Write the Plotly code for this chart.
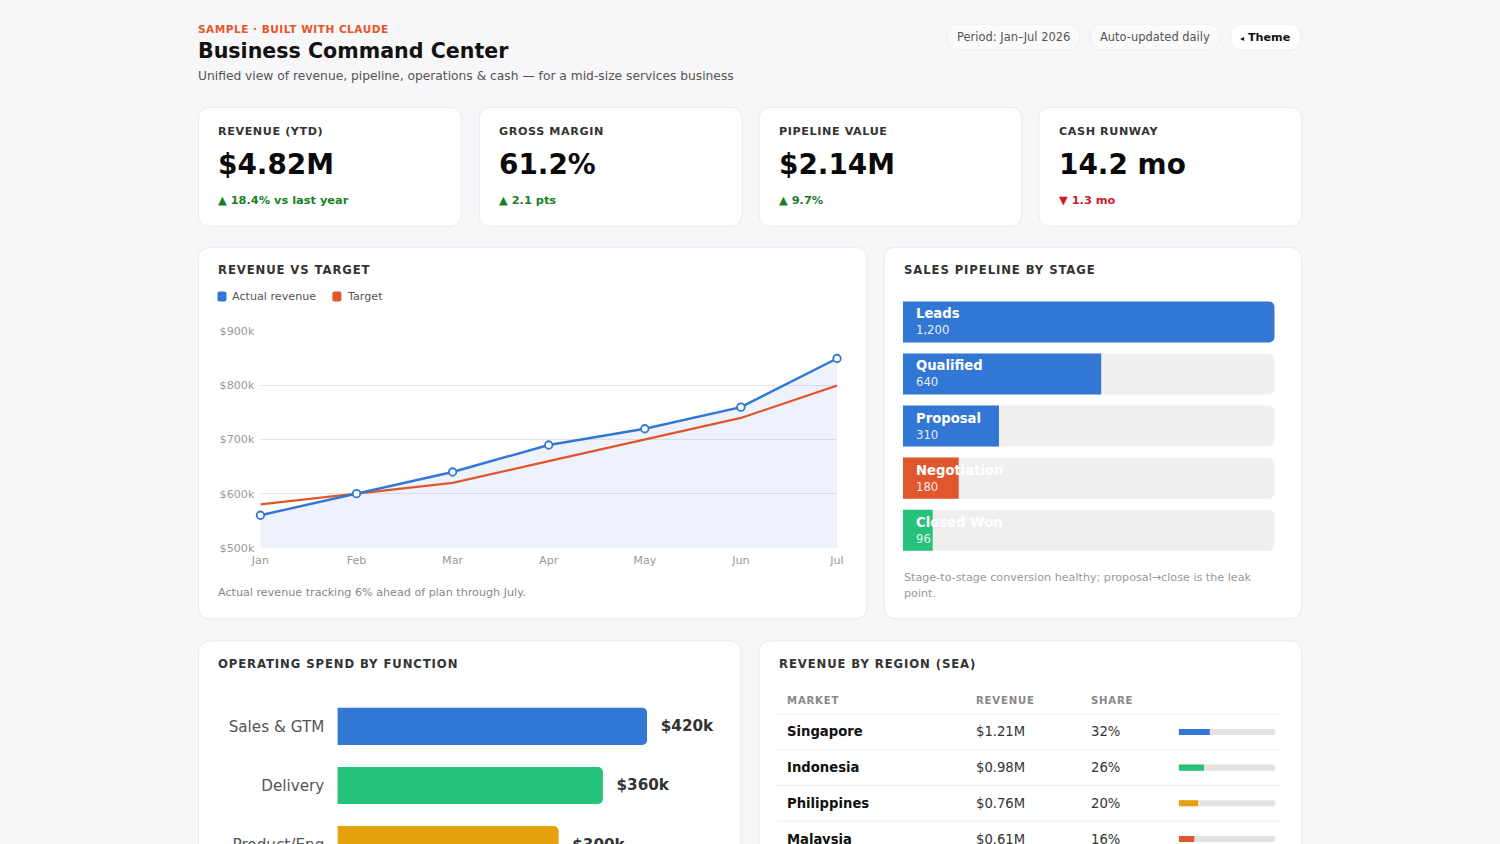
import plotly.graph_objects as go

# The page is photographed as a 1516x860 area squeezed into 1500x844, with the
# figure starting a few px in. Positions below are written in photo pixels and mapped.
SX, SY = 1500 / 1516, 844 / 860
OFFX, OFFY = 9.5, 6
W, H = 1507, 854
FONT = "DejaVu Sans"
BG = "#f7f6f8"

# --- header texts
eyebrow = "SAMPLE · BUILT WITH CLAUDE"
page_title = "Business Command Center"
subtitle = "Unified view of revenue, pipeline, operations & cash — for a mid-size services business"
pills = ["Period: Jan–Jul 2026", "Auto-updated daily"]

# --- KPI cards
kpi_titles = ["REVENUE (YTD)", "GROSS MARGIN", "PIPELINE VALUE", "CASH RUNWAY"]
kpi_values = ["$4.82M", "61.2%", "$2.14M", "14.2 mo"]
kpi_deltas = ["18.4% vs last year", "2.1 pts", "9.7%", "1.3 mo"]
kpi_up = [True, True, True, False]

# --- revenue vs target ($k)
months = ["Jan", "Feb", "Mar", "Apr", "May", "Jun", "Jul"]
actual_k = [560, 600, 640, 690, 720, 760, 850]
target_k = [580, 600, 620, 660, 700, 740, 800]
rev_ticks = [500, 600, 700, 800, 900]

# --- pipeline
stages = ["Leads", "Qualified", "Proposal", "Negotiation", "Closed Won"]
stage_counts = [1200, 640, 310, 180, 96]

# --- operating spend ($k)
spend_functions = ["Sales & GTM", "Delivery", "Product/Eng"]
spend_k = [420, 360, 300]

# --- revenue by region
markets = ["Singapore", "Indonesia", "Philippines", "Malaysia"]
market_revenue = ["$1.21M", "$0.98M", "$0.76M", "$0.61M"]
market_share = [32, 26, 20, 16]

BLUE = "#3177d3"
ORANGE = "#e0562d"
GREEN = "#24c27a"
AMBER = "#e6a20c"
stage_colors = [BLUE, BLUE, BLUE, ORANGE, GREEN]
spend_colors = [BLUE, GREEN, AMBER]
market_colors = [BLUE, GREEN, AMBER, ORANGE]


def px(x):
    return (x / SX - OFFX) / W


def py(y):
    return 1 - (y / SY - OFFY) / H


def fs(size):
    # undo the slight squeeze of the photo for font sizes
    return round(size / ((SX + SY) / 2), 2)


shapes = []
annotations = []


def rrect(x0, y0, x1, y1, r, fill, line="#ebe9ee", lw=1):
    X0, X1, Y0, Y1 = px(x0), px(x1), py(y0), py(y1)
    rx, ry = r / SX / W, r / SY / H
    path = (f"M {X0+rx},{Y0} L {X1-rx},{Y0} Q {X1},{Y0} {X1},{Y0-ry} "
            f"L {X1},{Y1+ry} Q {X1},{Y1} {X1-rx},{Y1} L {X0+rx},{Y1} "
            f"Q {X0},{Y1} {X0},{Y1+ry} L {X0},{Y0-ry} Q {X0},{Y0} {X0+rx},{Y0} Z")
    shapes.append(dict(type="path", xref="paper", yref="paper", path=path,
                       fillcolor=fill, line=dict(color=line, width=lw), layer="below"))


def text(x, y, s, size, color, bold=False, anchor="left", spacing=None):
    if spacing:
        s = f"<span style='letter-spacing:{spacing}px'>{s}</span>"
    if bold:
        s = f"<b>{s}</b>"
    annotations.append(dict(x=px(x), y=py(y), xref="paper", yref="paper", text=s,
                            showarrow=False, xanchor=anchor, yanchor="middle",
                            font=dict(size=fs(size), color=color, family=FONT)))


# header
text(196, 29, eyebrow, 10.4, "#e8552a", bold=True, spacing=0.5)
text(196, 51, page_title, 20.3, "#111111", bold=True)
text(196, 76, subtitle, 12.1, "#555555")
pill_x = [(947, 1080), (1090, 1220)]
for (a, b), p in zip(pill_x, pills):
    rrect(a, 24, b, 50, 13, "#fbfafb", line="#efedf0")
    text((a + b) / 2, 37, p, 11.3, "#555555", anchor="center")
rrect(1231, 24, 1301, 50, 13, "#ffffff", line="#efedf0")
text(1266, 37, "<span style='font-size:8px'>◂</span> Theme", 11, "#111111", bold=True, anchor="center")

# KPI cards
card_x = [198, 479, 759, 1039]
for i, x0 in enumerate(card_x):
    rrect(x0, 107, x0 + 263, 226, 12, "#ffffff")
    text(x0 + 18, 131, kpi_titles[i], 11, "#333333", bold=True, spacing=0.6)
    text(x0 + 18, 164, kpi_values[i], 27.5, "#0a0a0a", bold=True)
    if kpi_up[i]:
        text(x0 + 18, 200, "▲ " + kpi_deltas[i], 11.2, "#1a7f24", bold=True)
    else:
        text(x0 + 18, 200, "▼ " + kpi_deltas[i], 11.2, "#cf1a2c", bold=True)

# panels
rrect(198, 247, 867, 618, 12, "#ffffff")
rrect(884, 247, 1302, 618, 12, "#ffffff")
rrect(198, 640, 741, 880, 12, "#ffffff")
rrect(759, 640, 1302, 880, 12, "#ffffff")

text(216, 270, "REVENUE VS TARGET", 11.5, "#333333", bold=True, spacing=0.9)
text(902, 270, "SALES PIPELINE BY STAGE", 11.5, "#333333", bold=True, spacing=0.9)
text(216, 663, "OPERATING SPEND BY FUNCTION", 11.5, "#333333", bold=True, spacing=0.9)
text(777, 663, "REVENUE BY REGION (SEA)", 11.5, "#333333", bold=True, spacing=0.9)

# legend of line chart
rrect(217, 291, 226, 301, 2, BLUE, line=BLUE, lw=0)
text(230, 296, "Actual revenue", 11, "#555555")
rrect(332, 291, 341, 301, 2, ORANGE, line=ORANGE, lw=0)
text(345, 296, "Target", 11, "#555555")
text(216, 592, "Actual revenue tracking 6% ahead of plan through July.", 11, "#888888")

text(902, 577, "Stage-to-stage conversion healthy; proposal→close is the leak", 11, "#999999")
text(902, 593, "point.", 11, "#999999")

fig = go.Figure()

# revenue vs target
xs = list(range(len(months)))
fig.add_trace(go.Scatter(x=xs, y=actual_k, mode="none", fill="tozeroy",
                         fillcolor="rgba(60,100,220,0.085)", hoverinfo="skip",
                         xaxis="x", yaxis="y"))
fig.add_trace(go.Scatter(x=xs, y=target_k, mode="lines", line=dict(color=ORANGE, width=2.2),
                         name="Target", xaxis="x", yaxis="y", cliponaxis=False))
fig.add_trace(go.Scatter(x=xs, y=actual_k, mode="lines+markers", line=dict(color=BLUE, width=2.4),
                         marker=dict(size=7.5, color="#ffffff", line=dict(color=BLUE, width=1.8)),
                         name="Actual revenue", xaxis="x", yaxis="y", cliponaxis=False))

# pipeline
track = [max(stage_counts)] * len(stages)
fig.add_trace(go.Bar(y=stages, x=track, orientation="h", width=41 / 52,
                     marker=dict(color="#f1efee", cornerradius=6, line=dict(width=0)),
                     hoverinfo="skip", xaxis="x2", yaxis="y2"))
fig.add_trace(go.Bar(y=stages, x=stage_counts, orientation="h", width=41 / 52,
                     marker=dict(color=stage_colors, cornerradius=6, line=dict(width=0)),
                     xaxis="x2", yaxis="y2"))
for s, c in zip(stages, stage_counts):
    annotations.append(dict(x=px(914), y=s, xref="paper", yref="y2", text=f"<b>{s}</b>",
                            showarrow=False, xanchor="left", yanchor="middle", yshift=8,
                            font=dict(size=fs(13), color="#ffffff", family=FONT)))
    annotations.append(dict(x=px(914), y=s, xref="paper", yref="y2", text=f"{c:,}",
                            showarrow=False, xanchor="left", yanchor="middle", yshift=-8.5,
                            font=dict(size=fs(11.5), color="rgba(255,255,255,0.9)", family=FONT)))

# operating spend
fig.add_trace(go.Bar(y=spend_functions, x=spend_k, orientation="h", width=37 / 59,
                     marker=dict(color=spend_colors, cornerradius=5, line=dict(width=0)),
                     text=[f"<b>  ${v}k</b>" for v in spend_k], textposition="outside",
                     textfont=dict(size=fs(15), color="#333333", family=FONT),
                     cliponaxis=False, xaxis="x3", yaxis="y3"))

# revenue by region
fig.add_trace(go.Bar(y=markets, x=[100] * len(markets), orientation="h", width=0.17,
                     marker=dict(color="#e5e3e1", cornerradius=3, line=dict(width=0)),
                     hoverinfo="skip", xaxis="x4", yaxis="y4"))
fig.add_trace(go.Bar(y=markets, x=market_share, orientation="h", width=0.17,
                     marker=dict(color=market_colors, cornerradius=3, line=dict(width=0)),
                     xaxis="x4", yaxis="y4"))
text(785, 700, "MARKET", 10, "#888888", bold=True, spacing=0.8)
text(974, 700, "REVENUE", 10, "#888888", bold=True, spacing=0.8)
text(1089, 700, "SHARE", 10, "#888888", bold=True, spacing=0.8)
for m, r, s in zip(markets, market_revenue, market_share):
    for x, t, b in [(785, m, True), (974, r, False), (1089, f"{s}%", False)]:
        annotations.append(dict(x=px(x), y=m, xref="paper", yref="y4",
                                text=f"<b>{t}</b>" if b else t, showarrow=False,
                                xanchor="left", yanchor="middle",
                                font=dict(size=fs(13), color="#111111" if b else "#333333",
                                          family=FONT)))
for k in range(len(markets)):
    shapes.append(dict(type="line", xref="paper", yref="y4", x0=px(777), x1=px(1282),
                       y0=k - 0.5, y1=k - 0.5, line=dict(color="#ecebea", width=1)))

hidden = dict(showgrid=False, zeroline=False, showticklabels=False, showline=False, ticks="")

# the bottom row runs off the page; its axes stop at the photo edge
bottom = 844
spend_top = 696
spend_bands = (bottom - spend_top) / 59
region_top = 713.2
region_bands = (bottom - region_top) / 35.67

fig.update_layout(
    width=W, height=H,
    margin=dict(l=0, r=0, t=0, b=0),
    paper_bgcolor=BG,
    plot_bgcolor="rgba(0,0,0,0)",
    showlegend=False,
    barmode="overlay",
    font=dict(family=FONT),
    xaxis=dict(domain=[px(260), px(837)], range=[0, 6], tickvals=xs, ticktext=months,
               showgrid=False, zeroline=False, showline=False, ticks="",
               ticklabelstandoff=4, tickfont=dict(size=fs(11), color="#999999")),
    yaxis=dict(domain=[py(547), py(331)], range=[500, 900], tickvals=rev_ticks,
               ticktext=[f"${v}k" for v in rev_ticks], gridcolor="#e6e6ea", zeroline=False,
               showline=False, ticks="", ticklabelstandoff=5,
               tickfont=dict(size=fs(11), color="#999999")),
    xaxis2=dict(domain=[px(903), px(1275)], range=[0, max(stage_counts)], anchor="y2", **hidden),
    yaxis2=dict(domain=[py(555.5), py(295.5)], range=[4.5, -0.5], anchor="x2", **hidden),
    xaxis3=dict(domain=[px(337), px(647)], range=[0, max(spend_k)], anchor="y3", **hidden),
    yaxis3=dict(domain=[py(bottom), py(spend_top)], range=[spend_bands - 0.5, -0.5], anchor="x3",
                showgrid=False, zeroline=False, showline=False, ticks="", ticklabelstandoff=12,
                tickfont=dict(size=fs(15), color="#555555")),
    xaxis4=dict(domain=[px(1179), px(1276)], range=[0, 100], anchor="y4", **hidden),
    yaxis4=dict(domain=[py(bottom), py(region_top)], range=[region_bands - 0.5, -0.5],
                anchor="x4", **hidden),
    shapes=shapes,
    annotations=annotations,
)

fig.write_html("out.html", config={"displayModeBar": False},
               post_script=f"document.body.style.margin='0';"
                           f"document.body.style.overflow='hidden';"
                           f"document.body.style.background='{BG}';")
